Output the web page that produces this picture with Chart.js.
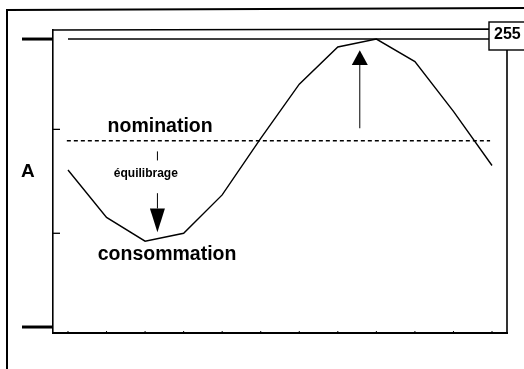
<!DOCTYPE html>
<html>
<head>
<meta charset="utf-8">
<script src="https://cdn.jsdelivr.net/npm/chart.js@4"></script>
<style>
  html,body{margin:0;padding:0;background:#fff;}
  canvas{display:block;}
</style>
</head>
<body>
<canvas id="c" width="524" height="369"></canvas>
<script>
// curve sampled at 12 equally spaced steps
const steps = [0,1,2,3,4,5,6,7,8,9,10,11];
const consumption = [139, 97, 76, 83, 117, 167, 215, 248, 255, 235, 191, 143];
const capacity = 255;          // solid top line
const nomination = 165;        // dotted line
const yTicks = [0, 83, 175, 255];
const majorTicks = [0, 255];

// annotations in data units
const labels = [
  {text:"nomination",   x:2.39, y:172.5, size:19.5},
  {text:"équilibrage",  x:2.02, y:133,   size:12},
  {text:"consommation", x:2.57, y:59.5,  size:19.5},
  {text:"A",            x:-1.04, y:133,  size:19}
];
const downArrow = {x:2.32, dash:[155.5,147.5], from:118.5, tip:84, head:105};
const upArrow   = {x:7.57, from:176, tip:245, head:232};

const font = '"Liberation Sans", Arial, sans-serif';

const frame = {
  id:"frame",
  afterDraw(chart){
    const {ctx, chartArea:a, scales:{x, y}} = chart;
    ctx.save();
    ctx.strokeStyle = "#000";
    ctx.fillStyle = "#000";

    // outer frame
    ctx.lineWidth = 2;
    ctx.beginPath();
    ctx.moveTo(7, 369); ctx.lineTo(7, 10); ctx.lineTo(524, 8);
    ctx.stroke();

    // inner frame top + right
    ctx.lineWidth = 1.6;
    ctx.beginPath();
    ctx.moveTo(a.left, a.top); ctx.lineTo(a.right, a.top - 1);
    ctx.lineTo(a.right, a.bottom - 1);
    ctx.stroke();

    // thick marks outside the axis
    ctx.lineWidth = 3;
    majorTicks.forEach(v=>{
      const py = y.getPixelForValue(v);
      ctx.beginPath(); ctx.moveTo(22, py); ctx.lineTo(a.left - 1, py); ctx.stroke();
    });
    // small inner ticks
    ctx.lineWidth = 1.3;
    yTicks.filter(v=>!majorTicks.includes(v)).forEach(v=>{
      const py = y.getPixelForValue(v);
      ctx.beginPath(); ctx.moveTo(a.left, py); ctx.lineTo(a.left + 7, py); ctx.stroke();
    });
    ctx.lineWidth = 1;
    steps.forEach(s=>{
      const px = x.getPixelForValue(s);
      ctx.beginPath(); ctx.moveTo(px, a.bottom); ctx.lineTo(px, a.bottom - 2); ctx.stroke();
    });

    // value box
    ctx.fillStyle = "#fff";
    ctx.fillRect(489, 22, 40, 28);
    ctx.lineWidth = 1.4;
    ctx.strokeRect(489, 22, 40, 28);
    ctx.fillStyle = "#000";
    ctx.font = "bold 16px " + font;
    ctx.textAlign = "left";
    ctx.textBaseline = "alphabetic";
    ctx.fillText(String(capacity), 494, 39);

    // texts
    ctx.textAlign = "center";
    labels.forEach(l=>{
      ctx.font = "bold " + l.size + "px " + font;
      ctx.fillText(l.text, x.getPixelForValue(l.x), y.getPixelForValue(l.y));
    });

    // arrows
    const arrow = (ar, w)=>{
      const px = x.getPixelForValue(ar.x);
      ctx.lineWidth = 1;
      ctx.beginPath();
      if (ar.dash){
        ctx.moveTo(px, y.getPixelForValue(ar.dash[0]));
        ctx.lineTo(px, y.getPixelForValue(ar.dash[1]));
      }
      ctx.moveTo(px, y.getPixelForValue(ar.from));
      ctx.lineTo(px, y.getPixelForValue(ar.head));
      ctx.stroke();
      const hy = y.getPixelForValue(ar.head), ty = y.getPixelForValue(ar.tip);
      ctx.beginPath();
      ctx.moveTo(px - w/2, hy); ctx.lineTo(px + w/2, hy); ctx.lineTo(px, ty);
      ctx.closePath(); ctx.fill();
    };
    arrow(downArrow, 15);
    arrow(upArrow, 16);

    ctx.restore();
  }
};

new Chart(document.getElementById("c"), {
  type:"line",
  data:{
    datasets:[
      { data: steps.map((s,i)=>({x:s, y:consumption[i]})),
        borderColor:"#000", borderWidth:1.4, pointRadius:0, tension:0 },
      { data:[{x:steps[0], y:capacity},{x:steps[steps.length-1] - 0.05, y:capacity}],
        borderColor:"#000", borderWidth:1.6, pointRadius:0 },
      { data:[{x:steps[0] - 0.03, y:nomination},{x:steps[steps.length-1] - 0.05, y:nomination}],
        borderColor:"#000", borderWidth:1.5, borderDash:[4,3], pointRadius:0 }
    ]
  },
  options:{
    responsive:false,
    devicePixelRatio:1,
    animation:false,
    events:[],
    layout:{ padding:{ left:53, right:17, top:30, bottom:36 } },
    plugins:{ legend:{display:false}, tooltip:{enabled:false} },
    scales:{
      x:{ type:"linear", min:-0.389, max:11.389,
          grid:{display:false, drawTicks:false}, ticks:{display:false},
          border:{display:true, color:"#000", width:2} },
      y:{ min:-5.3, max:263,
          grid:{display:false, drawTicks:false}, ticks:{display:false},
          border:{display:true, color:"#000", width:1.6} }
    }
  },
  plugins:[frame]
});
</script>
</body>
</html>
